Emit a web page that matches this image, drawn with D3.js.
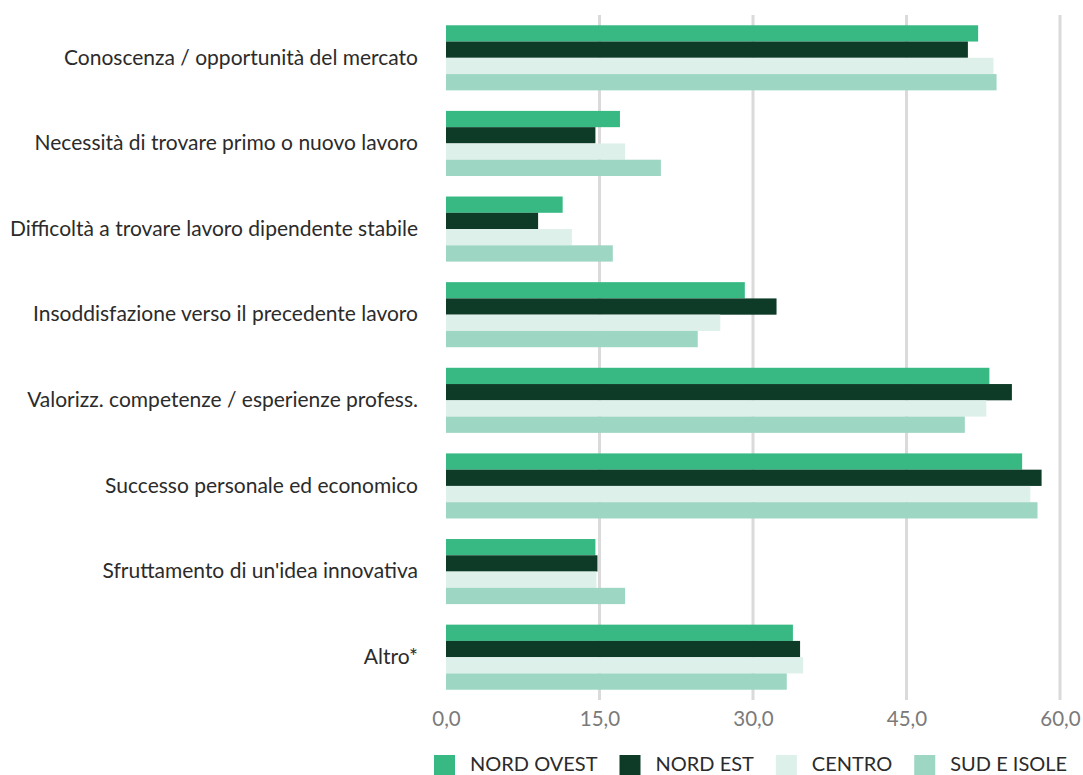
<!DOCTYPE html>
<html>
<head>
<meta charset="utf-8">
<script src="https://cdn.jsdelivr.net/npm/d3@7"></script>
<style>
  html, body { margin: 0; padding: 0; background: #ffffff; }
  svg { display: block; font-family: Lato, "Open Sans", sans-serif; }
</style>
</head>
<body>
<svg id="chart" width="1083" height="775"></svg>
<script>
// Motivations for starting a business, by macro-area (%)
const categories = [
  "Conoscenza / opportunità del mercato",
  "Necessità di trovare primo o nuovo lavoro",
  "Difficoltà a trovare lavoro dipendente stabile",
  "Insoddisfazione verso il precedente lavoro",
  "Valorizz. competenze / esperienze profess.",
  "Successo personale ed economico",
  "Sfruttamento di un'idea innovativa",
  "Altro*"
];
const seriesNames = ["NORD OVEST", "NORD EST", "CENTRO", "SUD E ISOLE"];
const nordOvest = [52.0, 17.0, 11.4, 29.2, 53.1, 56.3, 14.6, 33.9];
const nordEst   = [51.0, 14.6,  9.0, 32.3, 55.3, 58.2, 14.8, 34.6];
const centro    = [53.5, 17.5, 12.3, 26.8, 52.8, 57.1, 14.7, 34.9];
const sudIsole  = [53.8, 21.0, 16.3, 24.6, 50.7, 57.8, 17.5, 33.3];
const tickValues = [0, 15, 30, 45, 60];

const seriesValues = [nordOvest, nordEst, centro, sudIsole];
const colors = ["#38b984", "#0d3b28", "#ddf0ea", "#9dd6c2"];

const svg = d3.select("#chart");
const plot = { left: 446, right: 1060, top: 15, bottom: 700 };

const x = d3.scaleLinear().domain([0, 60]).range([plot.left, plot.right]);
const y = d3.scaleBand().domain(categories).range([plot.top, plot.bottom])
  .paddingInner(0.24).paddingOuter(0.12);
const ySub = d3.scaleBand().domain(seriesNames).range([0, y.bandwidth()]);

const it = d3.formatLocale({ decimal: ",", thousands: ".", grouping: [3], currency: ["€", ""] });
const fmt = it.format(".1f");

// vertical gridlines
svg.append("g").selectAll("line")
  .data(tickValues.filter(d => d > 0))
  .join("line")
  .attr("x1", d => x(d)).attr("x2", d => x(d))
  .attr("y1", plot.top).attr("y2", plot.bottom)
  .attr("stroke", "#dadada").attr("stroke-width", 3);

// bars
const groups = svg.append("g").selectAll("g")
  .data(categories)
  .join("g")
  .attr("transform", d => `translate(0,${y(d)})`);

groups.selectAll("rect")
  .data((c, i) => seriesNames.map((s, j) => ({ s, j, v: seriesValues[j][i] })))
  .join("rect")
  .attr("x", x(0))
  .attr("y", d => ySub(d.s))
  .attr("width", d => x(d.v) - x(0))
  .attr("height", ySub.bandwidth())
  .attr("fill", d => colors[d.j]);

// category axis
const yAxis = svg.append("g")
  .attr("transform", `translate(${plot.left},0)`)
  .call(d3.axisLeft(y).tickSize(0).tickPadding(28));
yAxis.select(".domain").remove();
yAxis.selectAll("text")
  .attr("font-size", 21)
  .attr("fill", "#2b2b2b")
  .attr("font-family", "Lato, sans-serif");

// value axis
const xAxis = svg.append("g")
  .attr("transform", `translate(0,${plot.bottom})`)
  .call(d3.axisBottom(x).tickValues(tickValues).tickFormat(fmt).tickSize(0).tickPadding(11));
xAxis.select(".domain").remove();
xAxis.selectAll("text")
  .attr("font-size", 20.5)
  .attr("fill", "#7a7a7a")
  .attr("font-family", "Lato, sans-serif");

// legend
const legend = svg.append("g").attr("transform", "translate(434,755)");
let lx = 0;
seriesNames.forEach((name, i) => {
  const g = legend.append("g").attr("transform", `translate(${lx},0)`);
  g.append("rect").attr("x", 0).attr("y", 0).attr("width", 21).attr("height", 20)
    .attr("fill", colors[i]);
  const t = g.append("text").attr("x", 36).attr("y", 16)
    .attr("font-size", 20).attr("fill", "#2b2b2b")
    .attr("font-family", "Lato, sans-serif")
    .text(name);
  lx += 36 + t.node().getComputedTextLength() + 22;
});
</script>
</body>
</html>
